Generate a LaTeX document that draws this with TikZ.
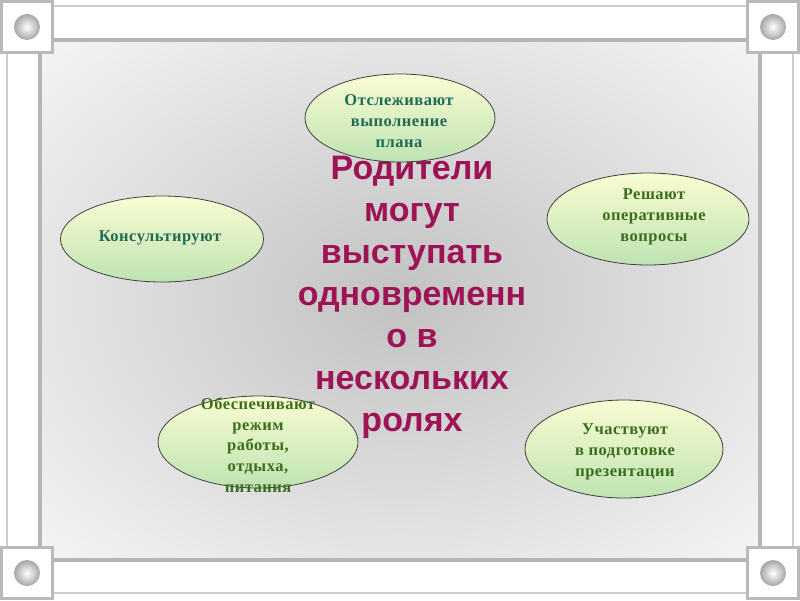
\documentclass[tikz,border=0pt]{standalone}
\usepackage{fontspec}
\setmainfont{Liberation Serif}
\newfontfamily\bubfont[LetterSpace=3]{Liberation Serif}
\newfontfamily\mainsans{Liberation Sans}
\usetikzlibrary{shapes.geometric}
\definecolor{tealtxt}{HTML}{1F6B57}
\definecolor{greentxt}{HTML}{3A6E1C}
\definecolor{roletxt}{HTML}{9E1256}
\definecolor{bubtop}{HTML}{FAFCD2}
\definecolor{bubbot}{HTML}{BEE3B2}
\begin{document}
\begin{tikzpicture}[x=1pt,y=-1pt,
  bubble/.style={ellipse, draw=black!75, line width=0.8pt, top color=bubtop, bottom color=bubbot, inner sep=0pt},
  bubtext/.style={align=center, inner sep=0pt, font=\bubfont\bfseries\fontsize{16.5}{20.8}\selectfont},
  maintext/.style={align=center, inner sep=0pt, text=roletxt, font=\mainsans\bfseries\fontsize{34}{42}\selectfont},
  framethin/.style={draw=gray!40, line width=1.6pt},
  framethick/.style={draw=gray!58, line width=3.4pt},
  cornerbox/.style={fill=white, draw=gray!55, line width=3pt}]
\fill[white] (0,0) rectangle (800,600);
\useasboundingbox (0,0) rectangle (800,600);
% inner shaded area
\begin{scope}
  \clip (42,42) rectangle (758,558);
  \shade[inner color=gray!48, outer color=gray!8] (-110,-70) rectangle (910,670);
\end{scope}
% frame bars
\draw[framethin] (53,6) -- (747,6);
\draw[framethick] (53,40) -- (747,40);
\draw[framethick] (53,560) -- (747,560);
\draw[framethin] (53,593) -- (747,593);
\draw[framethin] (7,53) -- (7,547);
\draw[framethick] (40,53) -- (40,547);
\draw[framethick] (760,53) -- (760,547);
\draw[framethin] (793,53) -- (793,547);
% corner squares
\foreach \cx/\cy in {27/27, 773/27, 27/573, 773/573} {
  \draw[cornerbox] (\cx-25.5,\cy-25.5) rectangle (\cx+25.5,\cy+25.5);
  \shade[inner color=white, outer color=gray!70] (\cx,\cy) circle (13pt);
}
% central text
\node[maintext] (roles) at (412,297) {Родители\\могут\\выступать\\одновременн\\о в\\нескольких\\ролях};
% bubbles
\node[bubble, minimum width=190pt, minimum height=88pt] (b1) at (400,118) {};
\node[bubble, minimum width=203pt, minimum height=86pt] (b2) at (162,239) {};
\node[bubble, minimum width=202pt, minimum height=92pt] (b3) at (648,219) {};
\node[bubble, minimum width=200pt, minimum height=92pt] (b4) at (258,442) {};
\node[bubble, minimum width=198pt, minimum height=98pt] (b5) at (624,449) {};
% bubble texts
\node[bubtext, text=tealtxt] (t1) at (399,121) {Отслеживают\\выполнение\\плана};
\node[bubtext, text=tealtxt] (t2) at (160,238) {Консультируют};
\node[bubtext, text=greentxt] (t3) at (654,217) {Решают\\оперативные\\вопросы};
\node[bubtext, text=greentxt] (t4) at (258,445) {Обеспечивают\\режим\\работы,\\отдыха,\\питания};
\node[bubtext, text=greentxt] (t5) at (625,452) {Участвуют\\в подготовке\\презентации};
\end{tikzpicture}
\end{document}
